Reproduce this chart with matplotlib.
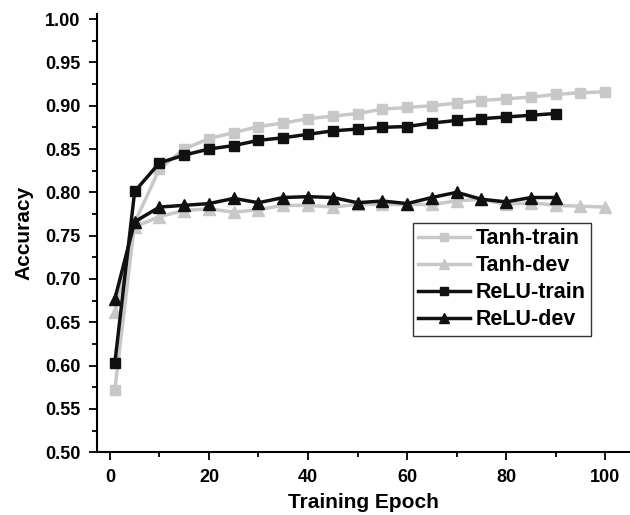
import matplotlib
matplotlib.use("Agg")
import matplotlib.pyplot as plt
from matplotlib.ticker import MultipleLocator

epochs = [1, 5, 10, 15, 20, 25, 30, 35, 40, 45, 50, 55, 60, 65, 70, 75, 80, 85, 90, 95, 100]
tanh_train = [0.572, 0.765, 0.827, 0.850, 0.862, 0.869, 0.876, 0.880, 0.885, 0.888, 0.891,
              0.896, 0.898, 0.900, 0.903, 0.906, 0.908, 0.910, 0.913, 0.915, 0.916]
tanh_dev = [0.662, 0.760, 0.772, 0.779, 0.781, 0.777, 0.780, 0.785, 0.785, 0.783, 0.786,
            0.786, 0.786, 0.786, 0.790, 0.792, 0.786, 0.788, 0.785, 0.784, 0.783]
relu_train = [0.603, 0.801, 0.834, 0.843, 0.850, 0.854, 0.860, 0.863, 0.867, 0.871, 0.873,
              0.875, 0.876, 0.880, 0.883, 0.885, 0.887, 0.889, 0.891]
relu_dev = [0.677, 0.766, 0.783, 0.785, 0.787, 0.793, 0.788, 0.794, 0.795, 0.794, 0.788,
            0.790, 0.787, 0.794, 0.800, 0.792, 0.789, 0.794, 0.794]

plt.rcParams['font.family'] = ['Liberation Sans', 'DejaVu Sans']
plt.rcParams['font.weight'] = 'bold'

fig = plt.figure(figsize=(6.3, 5.15), dpi=100)
ax = fig.add_axes([0.154, 0.122, 0.846, 0.851])

gray = '#c8c8c8'
black = '#111111'
ax.plot(epochs, tanh_train, color=gray, lw=2.5, marker='s', ms=7, label='Tanh-train')
ax.plot(epochs, tanh_dev, color=gray, lw=2.5, marker='^', ms=8, label='Tanh-dev')
ax.plot(epochs[:19], relu_train, color=black, lw=2.5, marker='s', ms=7, label='ReLU-train')
ax.plot(epochs[:19], relu_dev, color=black, lw=2.5, marker='^', ms=8, label='ReLU-dev')

ax.set_xlim(-2.6, 105)
ax.set_ylim(0.5, 1.006)
ax.xaxis.set_major_locator(MultipleLocator(20))
ax.xaxis.set_minor_locator(MultipleLocator(10))
ax.yaxis.set_major_locator(MultipleLocator(0.05))
ax.yaxis.set_minor_locator(MultipleLocator(0.025))
ax.yaxis.set_major_formatter(plt.FormatStrFormatter('%.2f'))
ax.spines['top'].set_visible(False)
ax.spines['right'].set_visible(False)
for s in ['left', 'bottom']:
    ax.spines[s].set_linewidth(1.5)
ax.tick_params(which='major', direction='out', length=6, width=1.3, labelsize=13, pad=6)
ax.tick_params(which='minor', direction='out', length=3.5, width=1.3)

ax.set_xlabel('Training Epoch', fontsize=15, fontweight='bold', labelpad=5)
ax.set_ylabel('Accuracy', fontsize=15, fontweight='bold', labelpad=8)

leg = ax.legend(loc='upper left', bbox_to_anchor=(0.593, 0.523), fontsize=15.5, frameon=True,
                fancybox=False, edgecolor='black', handlelength=2.4, handletextpad=0.25,
                borderpad=0.25, labelspacing=0.28, borderaxespad=0, markerscale=0.9)
leg.get_frame().set_linewidth(1.0)
for t in leg.get_texts():
    t.set_fontweight('bold')

plt.savefig('out.png', dpi=100)
